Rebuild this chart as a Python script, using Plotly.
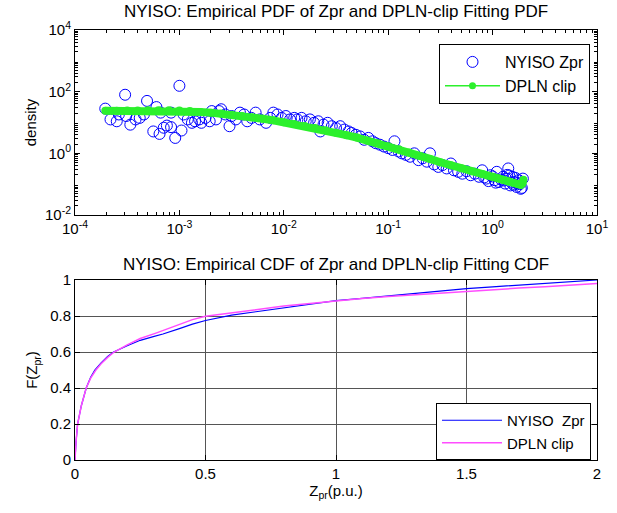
import plotly.graph_objects as go

# ---------------- data ----------------
# empirical PDF points (log10 x, log10 density)
pdf_logx = [-3.71, -3.66, -3.60, -3.58, -3.52, -3.51, -3.47, -3.42, -3.38, -3.34, -3.31, -3.25,
            -3.22, -3.19, -3.18, -3.15, -3.12, -3.08, -3.08, -3.04, -3.00, -2.98, -2.96, -2.92,
            -2.88, -2.85, -2.81, -2.79, -2.75, -2.71, -2.69, -2.65, -2.62, -2.60, -2.56, -2.52,
            -2.50, -2.46, -2.42, -2.38, -2.35, -2.31, -2.27, -2.23, -2.17, -2.13, -2.10, -2.06,
            -2.02, -1.98, -1.94, -1.90, -1.87, -1.83, -1.79, -1.75, -1.71, -1.67, -1.65, -1.62,
            -1.58, -1.54, -1.50, -1.46, -1.42, -1.38, -1.35, -1.31, -1.27, -1.23, -1.19, -1.15,
            -1.12, -1.08, -1.04, -1.00, -0.96, -0.94, -0.90, -0.87, -0.83, -0.79, -0.75, -0.71,
            -0.67, -0.63, -0.60, -0.56, -0.52, -0.48, -0.44, -0.40, -0.37, -0.33, -0.29, -0.25,
            -0.21, -0.17, -0.13, -0.10, -0.06, -0.02, 0.02, 0.04, 0.06, 0.10, 0.12, 0.13, 0.15,
            0.17, 0.19, 0.21, 0.23, 0.25, 0.27, 0.29, 0.08, 0.14, 0.18, 0.22, 0.26, 0.28,
            -0.08, -0.04, 0.00, 0.03, 0.11, 0.16, 0.20, 0.24]
pdf_logy = [1.45, 1.10, 1.04, 1.26, 1.90, 1.21, 0.93, 1.10, 1.15, 1.26, 1.70, 0.71,
            1.50, 0.63, 1.32, 0.83, 0.90, 1.32, 0.85, 0.50, 2.19, 0.74, 1.26, 1.10,
            0.99, 1.04, 1.10, 0.99, 1.15, 1.04, 1.37, 1.10, 1.37, 1.43, 1.26, 0.88,
            1.21, 1.10, 1.32, 1.26, 1.04, 1.15, 1.32, 1.10, 0.99, 1.15, 1.32, 1.26,
            1.15, 1.21, 1.10, 1.15, 1.10, 1.15, 1.04, 1.10, 0.99, 1.04, 0.71, 0.93,
            0.99, 0.88, 0.82, 0.88, 0.77, 0.71, 0.66, 0.60, 0.55, 0.44, 0.50, 0.39,
            0.33, 0.28, 0.22, 0.17, 0.11, 0.39, 0.06, 0.00, -0.05, -0.11, 0.00, -0.22,
            -0.16, -0.27, 0.00, -0.36, -0.44, -0.38, -0.49, -0.33, -0.55, -0.60, -0.66, -0.58,
            -0.71, -0.66, -0.76, -0.55, -0.82, -0.71, -0.87, -0.60, -0.93, -0.76, -0.98, -0.82, -0.49,
            -1.04, -0.76, -0.93, -1.09, -0.87, -1.15, -0.82, -0.85, -0.70, -0.95, -0.80, -1.00, -1.12,
            -0.78, -0.90, -0.75, -0.95, -0.88, -0.72, -1.02, -0.96]

# DPLN-clip fitted PDF (log10 x, log10 density)
fit_logx = [-3.71, -3.60, -3.50, -3.40, -3.30, -3.20, -3.10, -3.00, -2.90, -2.80, -2.70, -2.60,
            -2.50, -2.40, -2.30, -2.20, -2.10, -2.00, -1.90, -1.80, -1.70, -1.60, -1.50, -1.40,
            -1.30, -1.20, -1.10, -1.00, -0.90, -0.80, -0.70, -0.60, -0.50, -0.40, -0.30, -0.20,
            -0.10, 0.00, 0.05, 0.10, 0.15, 0.20, 0.24, 0.27, 0.285, 0.295]
fit_logy = [1.38, 1.38, 1.39, 1.39, 1.40, 1.40, 1.40, 1.39, 1.37, 1.34, 1.32, 1.29,
            1.25, 1.21, 1.17, 1.12, 1.07, 1.01, 0.95, 0.89, 0.82, 0.75, 0.67, 0.59,
            0.51, 0.42, 0.33, 0.23, 0.13, 0.03, -0.08, -0.18, -0.29, -0.39, -0.48, -0.58,
            -0.67, -0.76, -0.81, -0.86, -0.91, -0.96, -1.00, -1.02, -0.98, -0.86]

pdf_x = [10 ** v for v in pdf_logx]
pdf_y = [10 ** v for v in pdf_logy]
fit_x = [10 ** v for v in fit_logx]
fit_y = [10 ** v for v in fit_logy]

# CDFs
cdf_emp_x = [0, 0.001, 0.004, 0.01, 0.024, 0.043, 0.06, 0.076, 0.1, 0.125, 0.148, 0.2, 0.25,
             0.3, 0.337, 0.4, 0.45, 0.5, 0.56, 0.6, 0.7, 0.8, 0.9, 1.0, 1.1, 1.2, 1.3, 1.4,
             1.5, 1.6, 1.7, 1.8, 1.9, 2.0]
cdf_emp_y = [0, 0.05, 0.10, 0.20, 0.30, 0.40, 0.46, 0.50, 0.54, 0.575, 0.60, 0.635, 0.665,
             0.685, 0.70, 0.73, 0.755, 0.775, 0.795, 0.805, 0.825, 0.845, 0.865, 0.885, 0.898,
             0.912, 0.925, 0.94, 0.952, 0.962, 0.972, 0.982, 0.991, 1.0]
cdf_fit_x = [0, 0.001, 0.004, 0.01, 0.024, 0.043, 0.06, 0.08, 0.1, 0.125, 0.15, 0.2, 0.25,
             0.31, 0.4, 0.45, 0.5, 0.6, 0.7, 0.8, 0.9, 1.0, 1.1, 1.2, 1.3, 1.4, 1.5, 1.6,
             1.7, 1.8, 1.9, 2.0]
cdf_fit_y = [0, 0.05, 0.10, 0.20, 0.30, 0.40, 0.455, 0.50, 0.535, 0.57, 0.60, 0.64, 0.675,
             0.705, 0.755, 0.78, 0.798, 0.818, 0.837, 0.855, 0.87, 0.885, 0.897, 0.908, 0.918,
             0.928, 0.937, 0.946, 0.955, 0.963, 0.972, 0.98]

log_tickvals = [1e-4, 1e-3, 1e-2, 1e-1, 1, 10]
log_ticktext = ["10<sup>-4</sup>", "10<sup>-3</sup>", "10<sup>-2</sup>", "10<sup>-1</sup>",
                "10<sup>0</sup>", "10<sup>1</sup>"]
dens_tickvals = [1e-2, 1, 1e2, 1e4]
dens_ticktext = ["10<sup>-2</sup>", "10<sup>0</sup>", "10<sup>2</sup>", "10<sup>4</sup>"]
cdf_xticks = [0, 0.5, 1, 1.5, 2]
cdf_xtext = ["0", "0.5", "1", "1.5", "2"]
cdf_yticks = [0, 0.2, 0.4, 0.6, 0.8, 1]
cdf_ytext = ["0", "0.2", "0.4", "0.6", "0.8", "1"]

titles = ["NYISO: Empirical PDF of Zpr and DPLN-clip Fitting PDF",
          "NYISO: Empirical CDF of Zpr and DPLN-clip Fitting CDF"]

# ---------------- layout geometry ----------------
# the page body margin is removed by a post script, so the figure sits at (0, 0)
W, H = 617, 513
def px_x(a, b):
    return [a / W, b / W]
def px_y(top, bot):
    return [(H - bot) / H, (H - top) / H]
def fx(a):
    return a / W
def fy(t):
    return (H - t) / H

FONT = "Liberation Sans, Arial, sans-serif"
GREEN = "#2cf02c"
BLUE = "#0000ff"
MAGENTA = "#ff4dff"

fig = go.Figure()
fig.add_trace(go.Scatter(x=pdf_x, y=pdf_y, mode="markers", name="NYISO Zpr",
                         marker=dict(symbol="circle-open", size=11, color=BLUE,
                                     line=dict(width=1, color=BLUE)),
                         xaxis="x", yaxis="y", legend="legend"))
fig.add_trace(go.Scatter(x=fit_x, y=fit_y, mode="lines+markers", name="DPLN clip",
                         line=dict(color=GREEN, width=8),
                         marker=dict(symbol="circle", size=8, color=GREEN),
                         xaxis="x", yaxis="y", showlegend=False))
# legend proxy for the fitted PDF (thin line with dot marker, as in the legend)
fig.add_trace(go.Scatter(x=[None], y=[None], mode="lines+markers", name="DPLN clip",
                         line=dict(color=GREEN, width=1.5),
                         marker=dict(symbol="circle", size=7, color=GREEN),
                         xaxis="x", yaxis="y", legend="legend"))
fig.add_trace(go.Scatter(x=cdf_emp_x, y=cdf_emp_y, mode="lines", name="NYISO  Zpr",
                         line=dict(color=BLUE, width=1.2),
                         xaxis="x2", yaxis="y2", legend="legend2"))
fig.add_trace(go.Scatter(x=cdf_fit_x, y=cdf_fit_y, mode="lines", name="DPLN clip",
                         line=dict(color=MAGENTA, width=1.5),
                         xaxis="x2", yaxis="y2", legend="legend2"))

minor_x = [k * 10 ** d for d in range(-4, 1) for k in range(2, 10)]
minor_y = [k * 10 ** d for d in range(-2, 4) for k in range(2, 10)]

axis_common = dict(showline=True, linecolor="black", linewidth=1, mirror="ticks",
                   ticks="inside", ticklen=5, tickcolor="black", automargin=False,
                   tickfont=dict(family=FONT, size=15, color="black"), zeroline=False)

fig.update_layout(
    width=W, height=H,
    margin=dict(l=0, r=0, t=0, b=0, autoexpand=False),
    paper_bgcolor="white", plot_bgcolor="white",
    font=dict(family=FONT, size=15, color="black"),
    xaxis=dict(axis_common, type="log", domain=px_x(75, 597), anchor="y",
               range=[-4, 1], tickmode="array", tickvals=log_tickvals, ticktext=log_ticktext,
               showgrid=False,
               minor=dict(ticks="inside", ticklen=3, tickcolor="black",
                          tickmode="array", tickvals=minor_x, showgrid=False)),
    yaxis=dict(axis_common, type="log", domain=px_y(30, 215), anchor="x",
               range=[-2, 4], tickmode="array", tickvals=dens_tickvals, ticktext=dens_ticktext,
               showgrid=False,
               title=dict(text="density", font=dict(family=FONT, size=15), standoff=4),
               minor=dict(ticks="inside", ticklen=3, tickcolor="black",
                          tickmode="array", tickvals=minor_y, showgrid=False)),
    xaxis2=dict(axis_common, domain=px_x(75, 597), anchor="y2", range=[0, 2],
                tickmode="array", tickvals=cdf_xticks, ticktext=cdf_xtext,
                showgrid=True, gridcolor="#555555", gridwidth=1,
                title=dict(text="Z<sub>pr</sub>(p.u.)", font=dict(family=FONT, size=15), standoff=2)),
    yaxis2=dict(axis_common, domain=px_y(280, 460), anchor="x2", range=[0, 1],
                tickmode="array", tickvals=cdf_yticks, ticktext=cdf_ytext,
                showgrid=True, gridcolor="#555555", gridwidth=1,
                title=dict(text="F(Z<sub>pr</sub>)", font=dict(family=FONT, size=15), standoff=8)),
    legend=dict(x=fx(590), y=fy(44), xanchor="right", yanchor="top",
                bordercolor="black", borderwidth=1, bgcolor="white",
                font=dict(family=FONT, size=16), itemwidth=55, tracegroupgap=0),
    legend2=dict(x=fx(591), y=fy(403), xanchor="right", yanchor="top",
                 bordercolor="black", borderwidth=1, bgcolor="white",
                 font=dict(family=FONT, size=15), itemwidth=60),
    showlegend=True,
    annotations=[
        dict(text=titles[0], x=fx(336), y=fy(11), xref="paper", yref="paper",
             showarrow=False, xanchor="center", yanchor="middle",
             font=dict(family=FONT, size=17)),
        dict(text=titles[1], x=fx(336), y=fy(264), xref="paper", yref="paper",
             showarrow=False, xanchor="center", yanchor="middle",
             font=dict(family=FONT, size=17)),
    ],
)

fig.write_html("out.html",
               config={"displayModeBar": False},
               post_script="document.body.style.margin='0';"
                           "document.documentElement.style.overflow='hidden';")
